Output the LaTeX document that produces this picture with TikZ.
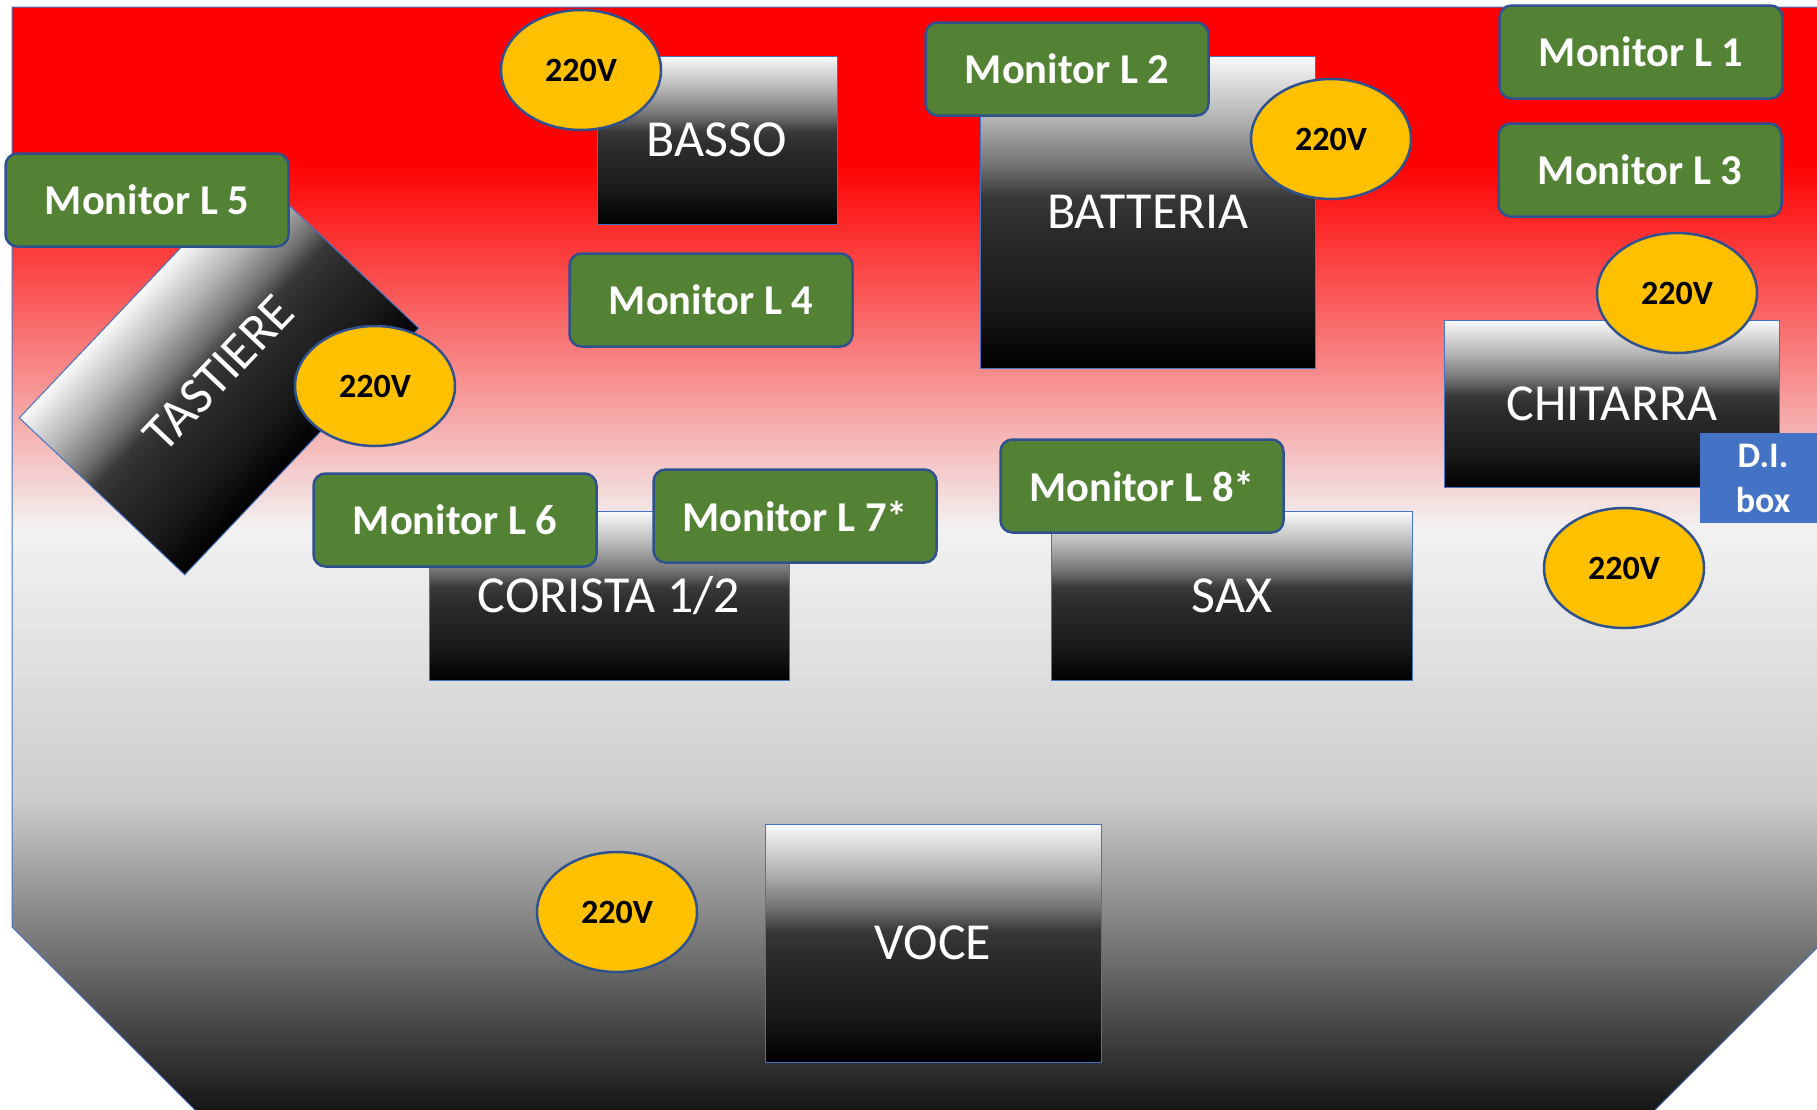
\documentclass[tikz,border=0pt]{standalone}
\usepackage{fontspec}
\setmainfont{Carlito}
\usetikzlibrary{shapes.geometric}

\definecolor{monfill}{HTML}{548235}
\definecolor{monline}{HTML}{2F528F}
\definecolor{ampline}{HTML}{4472C4}
\definecolor{pwrfill}{HTML}{FFC000}
\definecolor{difill}{HTML}{4472C4}

\pgfdeclareverticalshading{stagefade}{100bp}{rgb(0bp)=(0.06,0.06,0.06); rgb(25bp)=(0.06,0.06,0.06); rgb(39.4bp)=(0.80,0.80,0.80); rgb(51.5bp)=(0.95,0.95,0.95); rgb(68.1bp)=(1,0,0); rgb(75bp)=(1,0,0); rgb(100bp)=(1,0,0)}
\pgfdeclareverticalshading{ampfade}{100bp}{rgb(0bp)=(0,0,0); rgb(25bp)=(0,0,0); rgb(35bp)=(0.10,0.10,0.10); rgb(47.5bp)=(0.17,0.17,0.17); rgb(52.5bp)=(0.22,0.22,0.22); rgb(57.5bp)=(0.45,0.45,0.45); rgb(65bp)=(0.70,0.70,0.70); rgb(75bp)=(0.98,0.98,0.98); rgb(100bp)=(0.98,0.98,0.98)}
\pgfdeclareverticalshading{tastfade}{100bp}{rgb(0bp)=(0,0,0); rgb(35.75bp)=(0,0,0); rgb(41.45bp)=(0.10,0.10,0.10); rgb(48.58bp)=(0.17,0.17,0.17); rgb(51.43bp)=(0.22,0.22,0.22); rgb(54.28bp)=(0.45,0.45,0.45); rgb(58.55bp)=(0.70,0.70,0.70); rgb(64.25bp)=(0.98,0.98,0.98); rgb(100bp)=(0.98,0.98,0.98)}

\begin{document}
\begin{tikzpicture}[
  x=1pt, y=-1pt,
  amp/.style={draw=ampline, line width=1pt, shade, shading=ampfade, text=white, inner sep=0pt, font=\fontsize{52}{62}\selectfont},
  mon/.style={draw=monline, line width=2.5pt, fill=monfill, rounded corners=12pt, text=white, inner sep=0pt, minimum width=283pt, minimum height=93pt, font=\bfseries\fontsize{42.5}{50}\selectfont},
  pwr/.style={ellipse, draw=monline, line width=2.5pt, fill=pwrfill, inner sep=0pt, minimum width=160pt, minimum height=120pt, font=\bfseries\fontsize{34}{40}\selectfont},
  di/.style={draw=ampline, line width=1pt, fill=difill, text=white, align=center, inner sep=0pt, minimum width=125pt, minimum height=89pt, font=\bfseries\fontsize{36}{45}\selectfont}
]
\clip (0,0) rectangle (1817,1109);
\shadedraw[shading=stagefade, draw=ampline, line width=1pt] (12,7) -- (1830,7) -- (1830,935) -- (1645,1120) -- (205,1120) -- (12,927) -- cycle;

\node[amp, minimum width=240pt, minimum height=168pt] (basso) at (717,140) {BASSO};
\node[amp, minimum width=335pt, minimum height=312pt] (batteria) at (1148,212) {BATTERIA};
\node[amp, minimum width=335pt, minimum height=167pt] (chitarra) at (1612,404) {CHITARRA};
\node[amp, shading=tastfade, shading angle=46.5, rotate=46.5, minimum width=340pt, minimum height=228pt] (tastiere) at (219,373) {TASTIERE};
\node[amp, minimum width=360pt, minimum height=169pt] (corista) at (609,596) {CORISTA 1/2};
\node[amp, minimum width=361pt, minimum height=169pt] (sax) at (1232,596) {SAX};
\node[amp, minimum width=336pt, minimum height=238pt] (voce) at (933,943) {VOCE};

\node[mon] (monL1) at (1641,52) {Monitor L 1};
\node[mon] (monL2) at (1067,69) {Monitor L 2};
\node[mon] (monL3) at (1640,170) {Monitor L 3};
\node[mon] (monL4) at (711,300) {Monitor L 4};
\node[mon] (monL5) at (147,200) {Monitor L 5};
\node[mon] (monL6) at (455,520) {Monitor L 6};
\node[mon] (monL7) at (795,516) {Monitor L 7*};
\node[mon] (monL8) at (1142,486) {Monitor L 8*};

\node[pwr] (pwrbasso) at (581,70) {220V};
\node[pwr] (pwrbatteria) at (1331,139) {220V};
\node[pwr] (pwrchitarra) at (1677,293) {220V};
\node[pwr] (pwrdi) at (1624,568) {220V};
\node[pwr] (pwrtastiere) at (375,386) {220V};
\node[pwr] (pwrvoce) at (617,912) {220V};

\node[di] (dibox) at (1763,478) {D.I.\\box};
\end{tikzpicture}
\end{document}
